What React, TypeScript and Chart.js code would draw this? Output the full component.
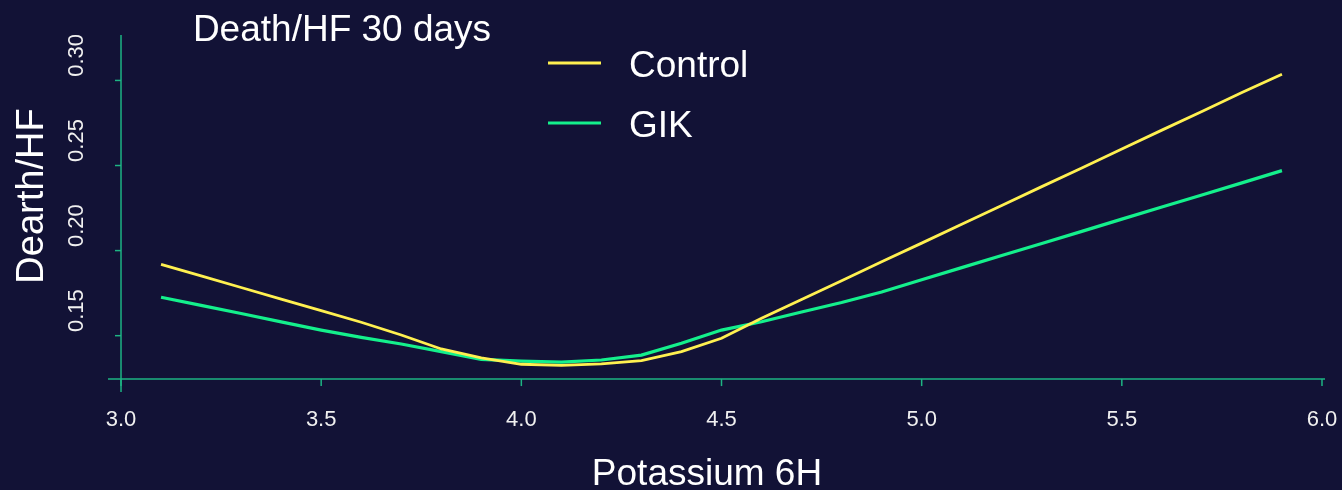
import React, { useEffect, useRef } from 'react';
import { Chart, registerables } from 'chart.js';

Chart.register(...registerables);

const potassium = [3.1, 3.2, 3.3, 3.4, 3.5, 3.6, 3.7, 3.8, 3.9, 4.0, 4.1, 4.2, 4.3, 4.4, 4.5, 4.6, 4.7, 4.8, 4.9, 5.0, 5.1, 5.2, 5.3, 5.4, 5.5, 5.6, 5.7, 5.8, 5.9];
const controlRisk = [0.1919, 0.1851, 0.1783, 0.1715, 0.1647, 0.1579, 0.1504, 0.1422, 0.1369, 0.1332, 0.1326, 0.1334, 0.1353, 0.1406, 0.1485, 0.1602, 0.1713, 0.1823, 0.1934, 0.2044, 0.2155, 0.2265, 0.2376, 0.2486, 0.2597, 0.2708, 0.2818, 0.2929, 0.3036];
const gikRisk = [0.1726, 0.1678, 0.1630, 0.1581, 0.1533, 0.1490, 0.1451, 0.1406, 0.1361, 0.1351, 0.1345, 0.1357, 0.1386, 0.1455, 0.1533, 0.1582, 0.1639, 0.1695, 0.1757, 0.1829, 0.1900, 0.1971, 0.2042, 0.2113, 0.2185, 0.2256, 0.2327, 0.2398, 0.2470];
const seriesNames = ['Control', 'GIK'];
const xTickValues = [3.0, 3.5, 4.0, 4.5, 5.0, 5.5, 6.0];
const xTickLabels = ['3.0', '3.5', '4.0', '4.5', '5.0', '5.5', '6.0'];
const yTickValues = [0.15, 0.2, 0.25, 0.3];
const yTickLabels = ['0.15', '0.20', '0.25', '0.30'];
const chartTitle = 'Death/HF 30 days';
const xTitle = 'Potassium 6H';
const yTitle = 'Dearth/HF';

const BG = '#121236';
const AXIS = '#1db483';
const YELLOW = '#fff050';
const GREEN = '#14f08c';
const FONT = '"Liberation Sans", Arial, sans-serif';

const decorPlugin = {
  id: 'decor',
  beforeDatasetsDraw(chart: any) {
    const { ctx, chartArea, scales } = chart;
    const xs = scales.x;
    const ys = scales.y;
    ctx.save();
    ctx.strokeStyle = AXIS;
    ctx.lineWidth = 1.5;
    // x axis line
    const axisY = ys.getPixelForValue(0.1245);
    ctx.beginPath();
    ctx.moveTo(chartArea.left, axisY);
    ctx.lineTo(chartArea.right, axisY);
    ctx.stroke();
    // y axis line
    const axisX = xs.getPixelForValue(3.0);
    ctx.beginPath();
    ctx.moveTo(axisX, chartArea.top);
    ctx.lineTo(axisX, chartArea.bottom);
    ctx.stroke();
    // x ticks + labels
    ctx.fillStyle = '#f0f0f0';
    ctx.font = `22px ${FONT}`;
    ctx.textAlign = 'center';
    ctx.textBaseline = 'alphabetic';
    xTickValues.forEach((v, i) => {
      const px = xs.getPixelForValue(v);
      ctx.beginPath();
      ctx.moveTo(px, axisY);
      ctx.lineTo(px, axisY + 7);
      ctx.stroke();
      ctx.fillText(xTickLabels[i], px, 426);
    });
    // y ticks + labels
    yTickValues.forEach((v, i) => {
      const py = ys.getPixelForValue(v);
      ctx.beginPath();
      ctx.moveTo(axisX - 6, py);
      ctx.lineTo(axisX, py);
      ctx.stroke();
      ctx.save();
      ctx.translate(83, py - 25);
      ctx.rotate(-Math.PI / 2);
      ctx.textAlign = 'center';
      ctx.textBaseline = 'alphabetic';
      ctx.fillText(yTickLabels[i], 0, 0);
      ctx.restore();
    });
    // titles
    ctx.fillStyle = '#ffffff';
    ctx.font = `37px ${FONT}`;
    ctx.textAlign = 'center';
    ctx.fillText(chartTitle, 342, 41);
    ctx.fillText(xTitle, 707, 485);
    ctx.save();
    ctx.translate(43, 196);
    ctx.rotate(-Math.PI / 2);
    ctx.font = `38px ${FONT}`;
    ctx.fillText(yTitle, 0, 0);
    ctx.restore();
    // legend
    const ds = chart.data.datasets;
    ctx.textAlign = 'left';
    ctx.font = `37px ${FONT}`;
    ds.forEach((d: any, i: number) => {
      const ly = 63 + i * 60;
      ctx.strokeStyle = d.borderColor;
      ctx.lineWidth = 3;
      ctx.beginPath();
      ctx.moveTo(548, ly);
      ctx.lineTo(601, ly);
      ctx.stroke();
      ctx.fillStyle = '#ffffff';
      ctx.fillText(d.label, 629, ly + 14);
    });
    ctx.restore();
  },
};

export default function App() {
  const ref = useRef<HTMLCanvasElement | null>(null);
  useEffect(() => {
    document.body.style.margin = '0';
    if (!ref.current) return;
    const chart = new Chart(ref.current, {
      type: 'line',
      data: {
        datasets: [
          {
            label: seriesNames[0],
            data: potassium.map((x, i) => ({ x, y: controlRisk[i] })),
            borderColor: YELLOW,
            borderWidth: 2.8,
            pointRadius: 0,
            tension: 0,
            fill: false,
          },
          {
            label: seriesNames[1],
            data: potassium.map((x, i) => ({ x, y: gikRisk[i] })),
            borderColor: GREEN,
            borderWidth: 3.2,
            pointRadius: 0,
            tension: 0,
            fill: false,
          },
        ],
      },
      options: {
        responsive: false,
        animation: false,
        layout: { padding: { left: 108, right: 17, top: 35, bottom: 98 } },
        plugins: { legend: { display: false }, tooltip: { enabled: false }, title: { display: false } },
        scales: {
          x: { type: 'linear', display: false, min: 2.9675, max: 6.0075 },
          y: { type: 'linear', display: false, min: 0.1169, max: 0.3267 },
        },
      },
      plugins: [decorPlugin],
    });
    return () => chart.destroy();
  }, []);
  return (
    <div style={{ position: 'fixed', left: 0, top: 0, width: 1342, height: 490, background: BG }}>
      <canvas ref={ref} width={1342} height={490} style={{ display: 'block', width: 1342, height: 490 }} />
    </div>
  );
}
